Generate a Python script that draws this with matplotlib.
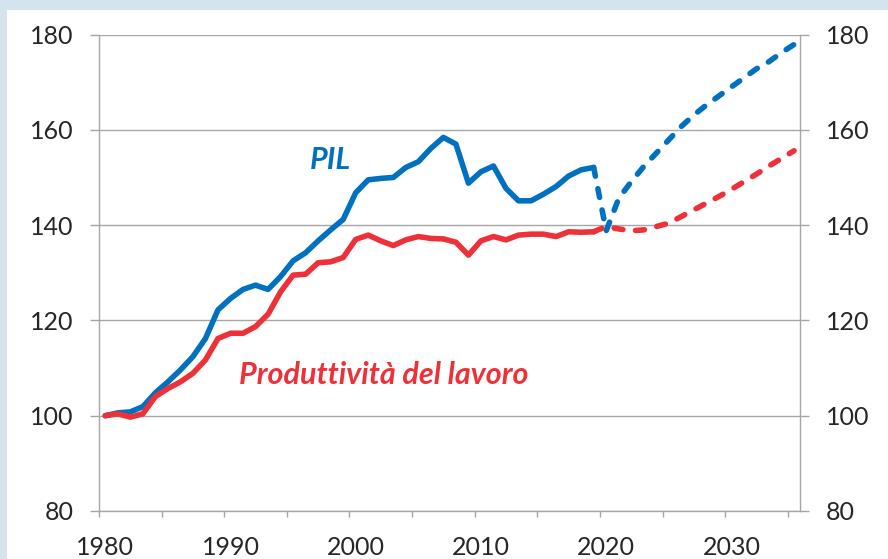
import matplotlib.pyplot as plt
import numpy as np
from matplotlib.patches import Rectangle

plt.rcParams['font.family'] = ['Lato', 'DejaVu Sans']

# Data (index, 1980 = 100)
years_hist = list(range(1980, 2020))
pil_hist = [100.0, 100.6, 100.8, 101.9, 104.8, 107.1, 109.6, 112.4, 116.2, 122.2,
            124.6, 126.5, 127.4, 126.5, 129.2, 132.5, 134.2, 136.7, 139.0, 141.2,
            146.8, 149.5, 149.8, 150.0, 152.1, 153.3, 156.1, 158.4, 157.0, 148.8,
            151.2, 152.4, 147.7, 145.1, 145.1, 146.5, 148.1, 150.3, 151.6, 152.1]
prod_hist = [100.0, 100.4, 99.7, 100.4, 104.0, 105.7, 107.1, 108.9, 111.7, 116.2,
             117.3, 117.3, 118.7, 121.3, 126.0, 129.5, 129.7, 132.1, 132.3, 133.2,
             137.0, 137.9, 136.7, 135.7, 136.9, 137.6, 137.2, 137.1, 136.4, 133.7,
             136.7, 137.6, 136.9, 137.9, 138.1, 138.1, 137.6, 138.6, 138.5, 138.6]

years_proj = list(range(2019, 2036))
pil_proj = [152.1, 138.8, 145.6, 149.1, 152.3, 155.1, 157.9, 160.7, 163.1, 165.2,
            167.1, 169.0, 170.9, 172.8, 174.3, 176.2, 177.9]
prod_proj = [138.6, 139.7, 139.2, 138.8, 139.0, 139.7, 140.4, 141.8, 143.2, 144.6,
             146.0, 147.5, 149.1, 150.7, 152.4, 154.0, 155.6]

blue = '#0070c0'
red = '#ee3138'
grid_col = '#a6a6a6'
txt_col = '#262626'

fig = plt.figure(figsize=(8.88, 5.59), dpi=100)
fig.patch.set_facecolor('#d4e4ee')
# white panel behind the chart
panel = Rectangle((7 / 888, 0), 1, 1 - 10 / 559, transform=fig.transFigure,
                  facecolor='white', edgecolor='none', zorder=-10)
fig.add_artist(panel)

ax = fig.add_axes([99 / 888, 48 / 559, 701.3 / 888, 476.5 / 559])
ax.set_facecolor('none')
ax.set_zorder(1)

# category axis: points sit in the middle of each year slot
xh = np.array(years_hist) + 0.5
xp = np.array(years_proj) + 0.5

ax.plot(xh, pil_hist, color=blue, lw=4, solid_capstyle='round', solid_joinstyle='round', zorder=3)
ax.plot(xh, prod_hist, color=red, lw=4, solid_capstyle='round', solid_joinstyle='round', zorder=3)
ax.plot(xp, pil_proj, color=blue, lw=4, linestyle=(0, (1.6, 2.3)),
        dash_capstyle='round', dash_joinstyle='round', zorder=3)
ax.plot(xp, prod_proj, color=red, lw=4, linestyle=(0, (1.6, 2.3)),
        dash_capstyle='round', dash_joinstyle='round', zorder=3)

ax.set_xlim(1980, 2036)
ax.set_ylim(80, 180)

# y axis, labels on both sides
ax.set_yticks(np.arange(80, 181, 20))
ax.tick_params(axis='y', which='major', length=6.5, width=1, color=grid_col,
               labelsize=18, labelcolor=txt_col, pad=12, left=True, right=True,
               labelleft=True, labelright=True)
ax.yaxis.grid(True, color=grid_col, lw=1)
ax.set_axisbelow(True)

# x axis: tick marks every 5 years, labels centred on the year slot
ax.set_xticks(np.arange(1980, 2036, 5))
ax.set_xticklabels([])
ax.set_xticks(np.arange(1980, 2031, 10) + 0.5, minor=True)
ax.set_xticklabels([str(y) for y in range(1980, 2031, 10)], minor=True)
ax.tick_params(axis='x', which='major', length=4.5, width=1, color=grid_col, direction='out')
ax.tick_params(axis='x', which='minor', length=0, labelsize=18, labelcolor=txt_col, pad=18)

for side in ['left', 'right', 'bottom']:
    ax.spines[side].set_color(grid_col)
    ax.spines[side].set_linewidth(1)
ax.spines['top'].set_visible(False)

ax.text(1998.5, 153.7, 'PIL', color=blue, fontsize=22, fontweight='bold', fontstyle='italic',
        ha='center', va='center')
ax.text(2002.7, 108.5, 'Produttività del lavoro', color=red, fontsize=22, fontweight='bold',
        fontstyle='italic', ha='center', va='center')

plt.savefig('out.png', dpi=100, facecolor=fig.get_facecolor())
plt.close()
